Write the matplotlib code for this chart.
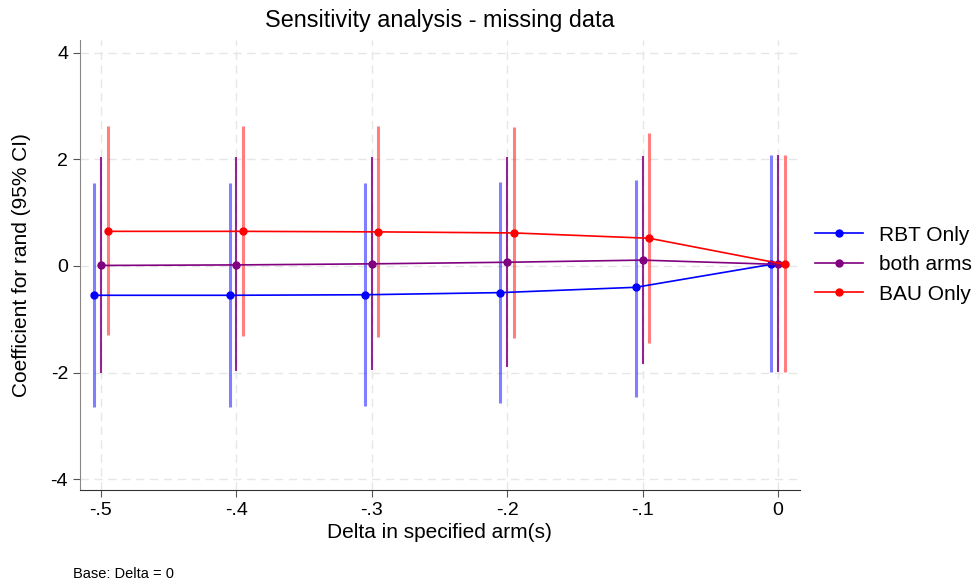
import matplotlib.pyplot as plt
import numpy as np

plt.rcParams["font.family"] = ["Liberation Sans", "DejaVu Sans"]
plt.rcParams["axes.unicode_minus"] = False

delta = np.array([-0.5, -0.4, -0.3, -0.2, -0.1, 0.0])

rbt_coef = np.array([-0.55, -0.55, -0.54, -0.50, -0.40, 0.03])
rbt_lo = np.array([-2.64, -2.64, -2.63, -2.58, -2.45, -1.99])
rbt_hi = np.array([1.55, 1.55, 1.55, 1.57, 1.62, 2.09])

both_coef = np.array([0.01, 0.02, 0.04, 0.07, 0.11, 0.03])
both_lo = np.array([-2.00, -1.98, -1.95, -1.90, -1.84, -1.99])
both_hi = np.array([2.04, 2.05, 2.05, 2.05, 2.06, 2.09])

bau_coef = np.array([0.65, 0.65, 0.64, 0.62, 0.52, 0.03])
bau_lo = np.array([-1.30, -1.32, -1.33, -1.35, -1.44, -1.99])
bau_hi = np.array([2.62, 2.63, 2.63, 2.60, 2.50, 2.09])

series = [
    ("RBT Only", -0.005, rbt_coef, rbt_lo, rbt_hi, "#0000ff", 0.5, 2.2),
    ("both arms", 0.0, both_coef, both_lo, both_hi, "#800080", 0.85, 1.5),
    ("BAU Only", 0.005, bau_coef, bau_lo, bau_hi, "#ff0000", 0.5, 2.2),
]

fig = plt.figure(figsize=(9.74, 5.81), dpi=100)
ax = fig.add_axes([0.082, 0.157, 0.739, 0.775])

for label, off, coef, lo, hi, col, a, lw in series:
    x = delta + off
    ax.vlines(x, lo, hi, color=col, alpha=a, linewidth=lw, zorder=2)
    ax.plot(x, coef, color=col, marker="o", markersize=5, linewidth=1.2,
            label=label, zorder=3)

ax.set_xlim(-0.5155, 0.016)
ax.set_ylim(-4.2, 4.25)
ax.set_xticks(delta)
ax.set_xticklabels(["-.5", "-.4", "-.3", "-.2", "-.1", "0"])
ax.set_yticks([-4, -2, 0, 2, 4])
ax.grid(True, color="#e6e6e6", linestyle=(0, (6, 4)), linewidth=1.0, zorder=0)
ax.set_axisbelow(True)
for s in ["top", "right"]:
    ax.spines[s].set_visible(False)
ax.spines["left"].set_color("#888888")
ax.spines["bottom"].set_color("#333333")
ax.tick_params(labelsize=14, length=5, color="#555555")

ax.set_xlabel("Delta in specified arm(s)", fontsize=15, labelpad=3)
ax.set_ylabel("Coefficient for rand (95% CI)", fontsize=15, labelpad=14)
ax.set_title("Sensitivity analysis - missing data", fontsize=16.8, pad=9)

ax.legend(loc="center left", bbox_to_anchor=(0.995, 0.5), frameon=False,
          fontsize=15, handlelength=2.3)
fig.text(0.075, 0.006, "Base: Delta = 0", fontsize=10.5)

fig.savefig("out.png")
